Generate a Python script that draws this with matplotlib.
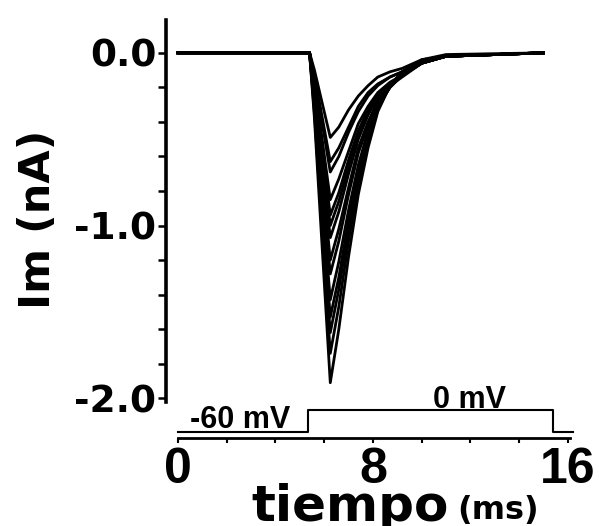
import numpy as np
import matplotlib.pyplot as plt
from matplotlib.ticker import FixedLocator

plt.rcParams['font.family'] = ['Liberation Sans', 'DejaVu Sans']

# time axis (ms) shared by all current traces
T_MS = [0, 5.4, 5.6, 5.85, 6.25, 6.6, 7.0, 7.4, 7.8, 8.2, 8.7, 9.2, 10.0, 11.0, 15.0]

# Im (nA), one row per trace, smallest to largest peak
TRACES = [
    [0, 0, -0.10, -0.25, -0.49, -0.43, -0.33, -0.25, -0.19, -0.14, -0.11, -0.09, -0.04, -0.01, 0],
    [0, 0, -0.13, -0.32, -0.63, -0.55, -0.43, -0.31, -0.23, -0.18, -0.14, -0.11, -0.05, -0.02, 0],
    [0, 0, -0.14, -0.35, -0.69, -0.60, -0.46, -0.34, -0.25, -0.19, -0.14, -0.11, -0.05, -0.02, 0],
    [0, 0, -0.17, -0.43, -0.85, -0.73, -0.57, -0.41, -0.31, -0.23, -0.17, -0.13, -0.06, -0.02, 0],
    [0, 0, -0.19, -0.48, -0.94, -0.81, -0.62, -0.45, -0.33, -0.24, -0.18, -0.13, -0.06, -0.02, 0],
    [0, 0, -0.20, -0.51, -1.00, -0.86, -0.66, -0.47, -0.35, -0.25, -0.18, -0.13, -0.06, -0.02, 0],
    [0, 0, -0.21, -0.55, -1.07, -0.92, -0.70, -0.50, -0.36, -0.26, -0.18, -0.13, -0.06, -0.02, 0],
    [0, 0, -0.24, -0.61, -1.20, -1.02, -0.78, -0.55, -0.40, -0.28, -0.19, -0.14, -0.06, -0.02, 0],
    [0, 0, -0.26, -0.65, -1.28, -1.09, -0.82, -0.58, -0.42, -0.28, -0.19, -0.13, -0.06, -0.02, 0],
    [0, 0, -0.29, -0.73, -1.43, -1.21, -0.91, -0.65, -0.45, -0.31, -0.20, -0.13, -0.06, -0.02, 0],
    [0, 0, -0.31, -0.78, -1.53, -1.30, -0.97, -0.68, -0.48, -0.31, -0.20, -0.13, -0.05, -0.02, 0],
    [0, 0, -0.32, -0.83, -1.62, -1.37, -1.02, -0.71, -0.49, -0.32, -0.19, -0.12, -0.05, -0.02, 0],
    [0, 0, -0.35, -0.89, -1.74, -1.47, -1.09, -0.76, -0.52, -0.33, -0.19, -0.11, -0.05, -0.02, 0],
    [0, 0, -0.38, -0.97, -1.91, -1.60, -1.18, -0.82, -0.55, -0.34, -0.19, -0.11, -0.04, -0.02, 0],
]

# voltage protocol
STEP_T = [0, 5.35, 5.35, 15.4, 15.4, 16.2]
STEP_MV = [-60, -60, 0, 0, -60, -60]

YTICKS = [0, -1, -2]
YTICKLABELS = ['0.0', '-1.0', '-2.0']
YMINOR = [-0.2, -0.4, -0.6, -0.8, -1.2, -1.4, -1.6, -1.8]
XTICKS = [0, 8, 16]
XTICKLABELS = ['0', '8', '16']
XMINOR = [2, 4, 6, 10, 12, 14]

fig = plt.figure(figsize=(5.99, 5.26), dpi=100)
ax = fig.add_axes([166 / 599, 88 / 526, 409 / 599, 418 / 526])

for tr in TRACES:
    ax.plot(T_MS, tr, color='black', lw=2.0, solid_joinstyle='round')

ax.set_xlim(-0.49, 16.29)
ax.set_ylim(-2.23, 0.19)
ax.spines['top'].set_visible(False)
ax.spines['right'].set_visible(False)
ax.spines['left'].set_bounds(-2.02, 0.19)
ax.spines['bottom'].set_bounds(0, 16.1)
ax.spines['left'].set_linewidth(2.6)
ax.spines['bottom'].set_linewidth(2.0)

ax.set_yticks(YTICKS)
ax.set_yticklabels(YTICKLABELS, fontsize=27, fontweight='bold', family='DejaVu Sans')
ax.yaxis.set_minor_locator(FixedLocator(YMINOR))
ax.tick_params(axis='y', which='both', direction='out', length=6, width=1.8, pad=1)

ax.set_xticks(XTICKS)
ax.set_xticklabels(XTICKLABELS, fontsize=36, fontweight='bold')
ax.xaxis.set_minor_locator(FixedLocator(XMINOR))
ax.tick_params(axis='x', which='both', direction='out', length=3.5, width=1.5, pad=3)

ax.set_ylabel('Im (nA)', fontsize=31, fontweight='bold', family='DejaVu Sans')
ax.yaxis.set_label_coords(-0.262, 0.522)

# protocol drawn in its own strip under the traces
ax2 = fig.add_axes([166 / 599, 86 / 526, 409 / 599, 40 / 526])
ax2.plot(STEP_T, STEP_MV, color='black', lw=1.5)
ax2.set_xlim(-0.49, 16.29)
ax2.set_ylim(-81.8, 27.3)
ax2.axis('off')
ax2.text(0.49, -49, '-60 mV', fontsize=22, fontweight='bold', va='baseline', ha='left')
ax2.text(10.46, 5.5, '0 mV', fontsize=22, fontweight='bold', va='baseline', ha='left')

fig.text(350 / 599, 1 - 521 / 526, 'tiempo', fontsize=36, fontweight='bold',
         family='DejaVu Sans', ha='center', va='baseline')
fig.text(457 / 599, 1 - 519 / 526, '(ms)', fontsize=23, fontweight='bold',
         family='DejaVu Sans', ha='left', va='baseline')

fig.savefig('out.png', dpi=100)
